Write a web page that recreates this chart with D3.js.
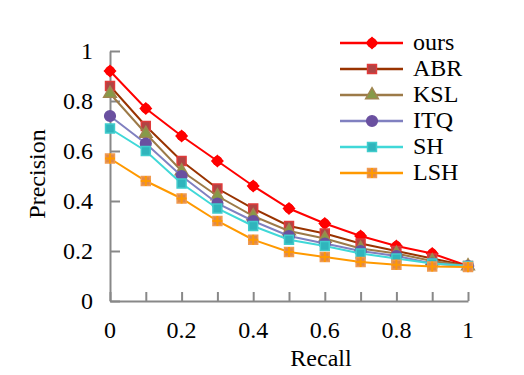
<!DOCTYPE html>
<html>
<head>
<meta charset="utf-8">
<script src="https://cdn.jsdelivr.net/npm/d3@7"></script>
<style>
  body { margin: 0; background: #fff; }
</style>
</head>
<body>
<div id="chart"></div>
<script>
// recall levels on x
var recall = [0, 0.1, 0.2, 0.3, 0.4, 0.5, 0.6, 0.7, 0.8, 0.9, 1];

// precision per method
var ours = [0.92, 0.77, 0.66, 0.56, 0.46, 0.37, 0.31, 0.26, 0.22, 0.19, 0.14];
var abr  = [0.86, 0.70, 0.56, 0.45, 0.37, 0.30, 0.27, 0.23, 0.20, 0.17, 0.14];
var ksl  = [0.83, 0.67, 0.52, 0.42, 0.34, 0.28, 0.25, 0.21, 0.19, 0.16, 0.14];
var itq  = [0.74, 0.63, 0.50, 0.39, 0.32, 0.26, 0.23, 0.20, 0.18, 0.15, 0.14];
var sh   = [0.69, 0.60, 0.47, 0.37, 0.30, 0.245, 0.22, 0.19, 0.17, 0.15, 0.14];
var lsh  = [0.57, 0.48, 0.41, 0.32, 0.245, 0.196, 0.176, 0.156, 0.145, 0.138, 0.136];

var seriesNames = ["ours", "ABR", "KSL", "ITQ", "SH", "LSH"];
var seriesValues = [ours, abr, ksl, itq, sh, lsh];

var xTicks = [0, 0.2, 0.4, 0.6, 0.8, 1];
var yTicks = [0, 0.2, 0.4, 0.6, 0.8, 1];

// line colour, marker style
var styles = {
  "ours": { line: "#ff0000", shape: d3.symbolSquare, size: 60, fill: "#ff0000", stroke: "#ff0000" },
  "ABR":  { line: "#993300", shape: d3.symbolSquare, size: 80, fill: "#b04444", stroke: "#e03a3a" },
  "KSL":  { line: "#9c7a48", shape: d3.symbolTriangle, size: 70, fill: "#869a48", stroke: "#a08650" },
  "ITQ":  { line: "#8080c0", shape: d3.symbolCircle, size: 90, fill: "#6a50a0", stroke: "#6a50a0" },
  "SH":   { line: "#40d8d8", shape: d3.symbolSquare, size: 80, fill: "#30b4bc", stroke: "#40cccc" },
  "LSH":  { line: "#ff9900", shape: d3.symbolSquare, size: 80, fill: "#e08a48", stroke: "#f09a50" }
};

var width = 524, height = 375;
var font = "'Liberation Serif', 'Times New Roman', serif";

var svg = d3.select("#chart").append("svg")
  .attr("width", width)
  .attr("height", height)
  .style("font-family", font);

var x = d3.scaleLinear().domain([0, 1]).range([110, 468]);
var y = d3.scaleLinear().domain([0, 1]).range([301, 51]);

// axes
var axisColor = "#888";

var xAxis = d3.axisBottom(x)
  .tickValues(d3.range(0, 11).map(function(i){ return i / 10; }))
  .tickSizeInner(-9)
  .tickSizeOuter(0)
  .tickFormat("");

var xAxisGroup = svg.append("g")
  .attr("transform", "translate(0," + y(0) + ")")
  .call(xAxis);
xAxisGroup.select(".domain").attr("stroke", axisColor).attr("stroke-width", 2);
xAxisGroup.selectAll(".tick line").attr("stroke", axisColor).attr("stroke-width", 2);

var yAxis = d3.axisLeft(y)
  .tickValues(yTicks)
  .tickSizeInner(-10)
  .tickSizeOuter(0)
  .tickFormat("");

var yAxisGroup = svg.append("g")
  .attr("transform", "translate(" + x(0) + ",0)")
  .call(yAxis);
yAxisGroup.select(".domain").attr("stroke", axisColor).attr("stroke-width", 2);
yAxisGroup.selectAll(".tick line").attr("stroke", axisColor).attr("stroke-width", 2);

// tick labels
svg.selectAll(".xlab")
  .data(xTicks)
  .enter()
  .append("text")
  .attr("class", "xlab")
  .attr("x", function(d){ return x(d); })
  .attr("y", 338)
  .attr("text-anchor", "middle")
  .style("font-family", font)
  .style("font-size", "24px")
  .text(function(d){ return d3.format("")(d); });

svg.selectAll(".ylab")
  .data(yTicks)
  .enter()
  .append("text")
  .attr("class", "ylab")
  .attr("x", 93)
  .attr("y", function(d){ return y(d) + 8; })
  .attr("text-anchor", "end")
  .style("font-family", font)
  .style("font-size", "24px")
  .text(function(d){ return d3.format("")(d); });

// axis titles
svg.append("text")
  .attr("x", 321)
  .attr("y", 366)
  .attr("text-anchor", "middle")
  .style("font-family", font)
  .style("font-size", "24px")
  .text("Recall");

svg.append("text")
  .attr("transform", "translate(45,174) rotate(-90)")
  .attr("text-anchor", "middle")
  .style("font-family", font)
  .style("font-size", "24px")
  .text("Precision");

// series
var line = d3.line()
  .x(function(d, i){ return x(recall[i]); })
  .y(function(d){ return y(d); });

function drawMarker(g, name, px, py) {
  var s = styles[name];
  var rot = name === "ours" ? " rotate(45)" : "";
  g.append("path")
    .attr("d", d3.symbol().type(s.shape).size(s.size)())
    .attr("transform", "translate(" + px + "," + py + ")" + rot)
    .attr("fill", s.fill)
    .attr("stroke", s.stroke)
    .attr("stroke-width", 1.5);
  if (name === "ours") {
    g.append("circle").attr("cx", px).attr("cy", py).attr("r", 5).attr("fill", s.fill);
  }
  if (name === "LSH") {
    g.append("path")
      .attr("d", "M" + (px - 5) + "," + py + "H" + (px + 5) + "M" + px + "," + (py - 5) + "V" + (py + 5))
      .attr("stroke", "#ff9900")
      .attr("stroke-width", 2);
  }
}

seriesNames.forEach(function(name, k){
  var vals = seriesValues[k];
  var g = svg.append("g").attr("class", "series");
  g.append("path")
    .datum(vals)
    .attr("d", line)
    .attr("fill", "none")
    .attr("stroke", styles[name].line)
    .attr("stroke-width", 2);
  vals.forEach(function(v, i){
    drawMarker(g, name, x(recall[i]), y(v));
  });
});

// legend
var legend = svg.selectAll(".legendRow")
  .data(seriesNames)
  .enter()
  .append("g")
  .attr("class", "legendRow")
  .attr("transform", function(d, i){ return "translate(0," + (43 + i * 26) + ")"; });

legend.append("line")
  .attr("x1", 340)
  .attr("x2", 403)
  .attr("stroke", function(d){ return styles[d].line; })
  .attr("stroke-width", 2.5);

legend.each(function(d){
  drawMarker(d3.select(this), d, 372, 0);
});

legend.append("text")
  .attr("x", 413)
  .attr("y", 7)
  .style("font-family", font)
  .style("font-size", "24px")
  .text(function(d){ return d; });
</script>
</body>
</html>
